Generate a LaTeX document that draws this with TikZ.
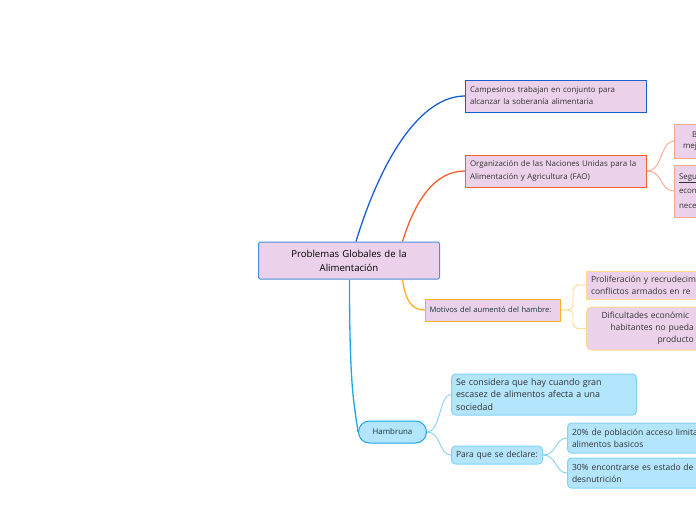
\documentclass[tikz,border=0pt]{standalone}
\usepackage{fontspec}
\setmainfont{Open Sans}
\usetikzlibrary{calc}
\definecolor{pinkfill}{HTML}{EBD1EA}
\definecolor{textdark}{HTML}{333333}
\definecolor{textteal}{HTML}{173838}
\definecolor{rootline}{HTML}{4A90D9}
\definecolor{campline}{HTML}{1A5FD0}
\definecolor{faoline}{HTML}{F4602E}
\definecolor{faosub}{HTML}{F9A88E}
\definecolor{motline}{HTML}{FDB024}
\definecolor{motsub}{HTML}{FFD98C}
\definecolor{hamline}{HTML}{1BA6E8}
\definecolor{hamfill}{HTML}{B3E5FC}
\definecolor{hamsub}{HTML}{86D2F5}

\begin{document}
\begin{tikzpicture}[x=1pt,y=-1pt,
  box/.style={draw,fill=pinkfill,line width=1pt,anchor=west,inner xsep=4.5pt,inner ysep=0pt,align=left,text=textdark},
  hbox/.style={box,fill=hamfill,draw=hamsub,rounded corners=4pt},
  main/.style={line width=1.3pt},
  sub/.style={line width=0.9pt}]
\useasboundingbox (0,0) rectangle (696,520);
\clip (0,0) rectangle (696,520);
\fill[white] (0,0) rectangle (696,520);

\node[box,draw=rootline,rounded corners=1.5pt,align=center,text width=172pt,minimum height=37pt,
  font=\fontsize{9.6}{14}\selectfont,text=black] (root) at (258,260.5)
  {Problemas Globales de la\\Alimentación};

\node[box,draw=campline,text width=172pt,minimum height=32pt,font=\fontsize{7.9}{12}\selectfont] (camp) at (465,96)
  {Campesinos trabajan en conjunto para\\alcanzar la soberanía alimentaria};
\node[box,draw=faoline,text width=172pt,minimum height=32pt,font=\fontsize{7.9}{12.5}\selectfont] (fao) at (465,171)
  {Organización de las Naciones Unidas para la\\Alimentación y Agricultura (FAO)};
\node[box,draw=faosub,text width=110pt,minimum height=34pt,font=\fontsize{7.9}{11}\selectfont] (bme) at (674,141)
  {\hspace*{13pt}B\\\hspace*{4pt}mej};
\node[box,draw=faosub,text width=110pt,minimum height=52pt,font=\fontsize{7.9}{14.5}\selectfont] (seg) at (674,191)
  {\underline{Segu}\\econ\\nece};

\node[box,draw=motline,inner xsep=4pt,text width=127pt,minimum height=22pt,font=\fontsize{7.6}{9}\selectfont,text=textteal] (mot) at (425,310)
  {Motivos del aumentó del hambre:};
\node[box,draw=motsub,text width=141pt,minimum height=28pt,font=\fontsize{8.5}{12}\selectfont] (pro) at (586,285)
  {Proliferación y recrudecim\\conflictos armados en re};
\node[box,draw=motsub,rounded corners=5pt,text width=141pt,minimum height=43pt,font=\fontsize{8.5}{12}\selectfont] (dif) at (586,328.5)
  {\hspace*{10.5pt}Dificultades económic\\\hspace*{19.5pt}habitantes no pueda\\\hspace*{66.5pt}producto};

\node[box,draw=hamline,fill=hamfill,rounded corners=11pt,align=center,text width=59pt,minimum height=22pt,
  font=\fontsize{7.9}{9}\selectfont,text=textteal] (ham) at (358,432) {Hambruna};
\node[hbox,text width=176pt,minimum height=41pt,font=\fontsize{8.9}{12.5}\selectfont] (cons) at (451,394.5)
  {Se considera que hay cuando gran\\escasez de alimentos afecta a una\\sociedad};
\node[hbox,text width=82pt,minimum height=18pt,font=\fontsize{8.5}{9}\selectfont] (para) at (451,455)
  {Para que se declare:};
\node[hbox,text width=141pt,minimum height=30pt,font=\fontsize{8.5}{12}\selectfont] (veinte) at (567,438)
  {20\% de población acceso limitad\\alimentos basicos};
\node[hbox,text width=141pt,minimum height=30pt,font=\fontsize{8.5}{12}\selectfont] (treinta) at (567,473)
  {30\% encontrarse es estado de\\desnutrición};

\draw[main,campline] ([xshift=7pt]root.north) .. controls +(25,-82) and +(-45,0) .. (camp.west);
\draw[main,faoline] ([xshift=53.5pt]root.north) .. controls +(13,-42) and +(-30,0) .. (fao.west);
\draw[main,motline] ([xshift=53.5pt]root.south) .. controls +(3,22) and +(-13,0) .. (mot.west);
\draw[main,hamline] ([xshift=0.5pt]root.south) .. controls +(0,110) and +(-4,-30) .. (ham.west);

\draw[sub,faosub] (fao.east) .. controls +(16,0) and +(-14,0) .. (bme.west);
\draw[sub,faosub] (fao.east) .. controls +(16,0) and +(-14,0) .. (seg.west);
\draw[sub,motsub,rounded corners=5pt] (mot.east) -- ++(12,0) |- (pro.west);
\draw[sub,motsub,rounded corners=5pt] (mot.east) -- ++(12,0) |- (dif.west);
\draw[sub,hamsub] (ham.east) .. controls +(14,0) and +(-12,0) .. (cons.west);
\draw[sub,hamsub] (ham.east) .. controls +(14,0) and +(-12,0) .. (para.west);
\draw[sub,hamsub] (para.east) .. controls +(14,0) and +(-12,0) .. (veinte.west);
\draw[sub,hamsub] (para.east) .. controls +(14,0) and +(-12,0) .. (treinta.west);
\end{tikzpicture}
\end{document}
